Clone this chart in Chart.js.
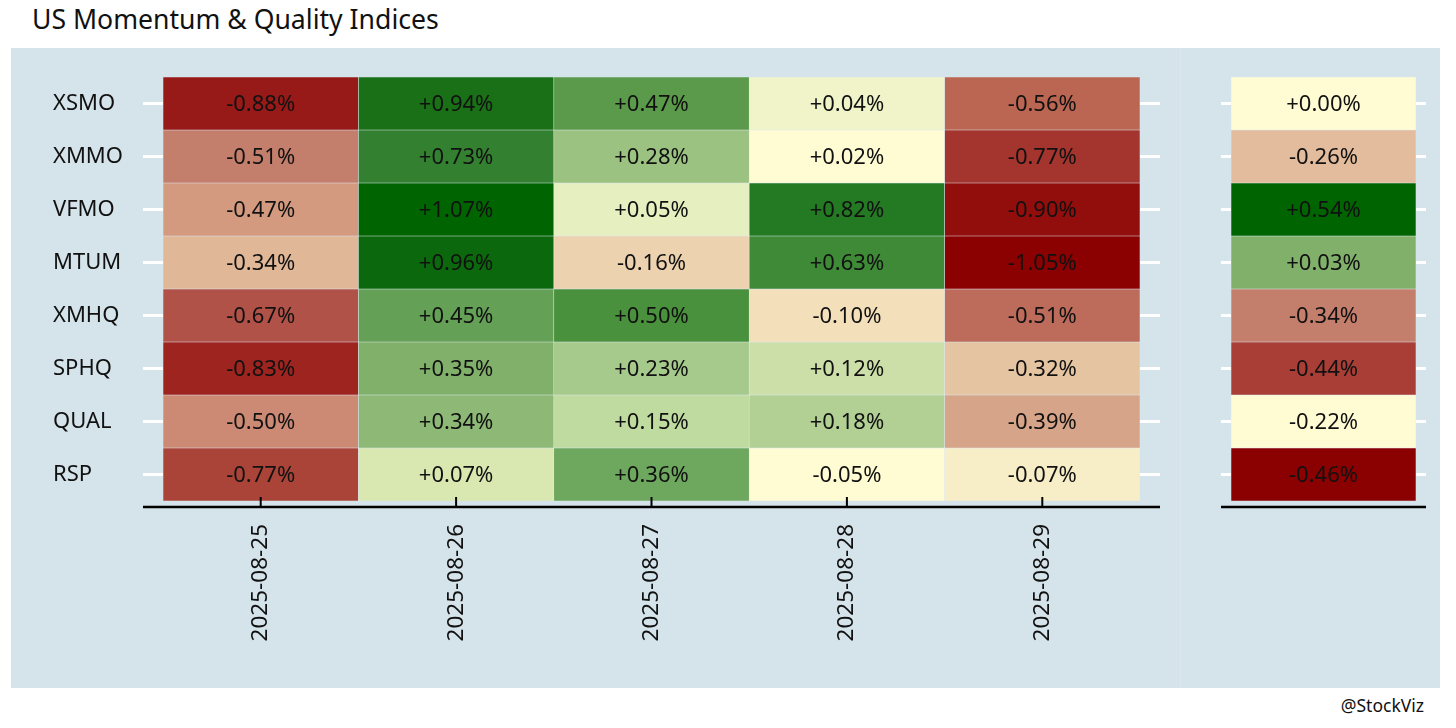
<!DOCTYPE html>
<html>
<head>
<meta charset="utf-8">
<script src="https://cdn.jsdelivr.net/npm/chart.js@4.4.1/dist/chart.umd.min.js"></script>
<style>
body{margin:0;background:#fff;width:1456px;height:728px;position:relative;overflow:hidden;font-family:"Noto Sans",sans-serif}
#title{position:absolute;left:32px;top:1px;font-size:26.6px;color:#111;white-space:nowrap}
#panel{position:absolute;left:11px;top:48px;width:1429px;height:640px;background:#d5e3ea}
#sep{position:absolute;left:1180px;top:48px;width:1px;height:640px;background:rgba(255,255,255,0.18)}
#main{position:absolute;left:0;top:48px}
#side{position:absolute;left:1180px;top:48px}
#credit{position:absolute;right:32px;top:693px;font-size:17.5px;color:#111}
</style>
</head>
<body>
<div id="title">US Momentum &amp; Quality Indices</div>
<div id="panel"></div>
<div id="sep"></div>
<canvas id="main" width="1180" height="640"></canvas>
<canvas id="side" width="260" height="640"></canvas>
<div id="credit">@StockViz</div>
<script>
// tickers (rows) and dates (columns)
const tickers = ['XSMO', 'XMMO', 'VFMO', 'MTUM', 'XMHQ', 'SPHQ', 'QUAL', 'RSP'];
const dates = ['2025-08-25', '2025-08-26', '2025-08-27', '2025-08-28', '2025-08-29'];

// daily returns in %, one array per date, rows in ticker order
const ret0825 = [-0.88, -0.51, -0.47, -0.34, -0.67, -0.83, -0.50, -0.77];
const ret0826 = [0.94, 0.73, 1.07, 0.96, 0.45, 0.35, 0.34, 0.07];
const ret0827 = [0.47, 0.28, 0.05, -0.16, 0.50, 0.23, 0.15, 0.36];
const ret0828 = [0.04, 0.02, 0.82, 0.63, -0.10, 0.12, 0.18, -0.05];
const ret0829 = [-0.56, -0.77, -0.90, -1.05, -0.51, -0.32, -0.39, -0.07];
// right hand panel
const sideRet = [0.00, -0.26, 0.54, 0.03, -0.34, -0.44, -0.22, -0.46];

const dailyRet = [ret0825, ret0826, ret0827, ret0828, ret0829];

// tile fills
const col0825 = ['#981a18', '#c47e6c', '#d39a80', '#e0b898', '#b05248', '#9e2420', '#cc8a74', '#aa4438'];
const col0826 = ['#1a7016', '#338030', '#006400', '#0c680c', '#64a055', '#80b06a', '#8db876', '#d9e7b0'];
const col0827 = ['#5a9a4a', '#9cc282', '#e6efc0', '#edd2b0', '#4a913e', '#a6c98c', '#c0dba0', '#6ea75e'];
const col0828 = ['#f0f4c8', '#fffcd4', '#247a22', '#3e8a36', '#f3e0bb', '#cddfa8', '#b2cf94', '#fffbd2'];
const col0829 = ['#bb6652', '#a3342e', '#920e0c', '#8b0000', '#bd6c5c', '#e5c4a2', '#d6a488', '#f7edc6'];
const sideCol = ['#fffcd4', '#e2bc9c', '#006400', '#80b06a', '#c47e6c', '#a83e36', '#fffcd4', '#8b0000'];
const dailyCol = [col0825, col0826, col0827, col0828, col0829];

const FONT = '"Noto Sans", sans-serif';

function fmt(v) {
  return (v >= 0 ? '+' : '') + v.toFixed(2) + '%';
}

// value text in each tile + black x axis line
const tileText = {
  id: 'tileText',
  afterDatasetsDraw(chart, args, opts) {
    const ctx = chart.ctx;
    ctx.save();
    ctx.font = '22px ' + FONT;
    ctx.fillStyle = '#111';
    ctx.textAlign = 'center';
    ctx.textBaseline = 'middle';
    chart.data.datasets.forEach((ds, r) => {
      chart.getDatasetMeta(r).data.forEach((bar, c) => {
        const p = bar.getCenterPoint();
        ctx.fillText(fmt(opts.values[c][r]), p.x, p.y + 1);
      });
    });
    ctx.restore();
  },
  afterDraw(chart, args, opts) {
    const ctx = chart.ctx;
    const a = chart.chartArea;
    const y = a.bottom + 6;
    ctx.save();
    ctx.strokeStyle = '#000';
    ctx.lineWidth = 2.5;
    ctx.beginPath();
    ctx.moveTo(a.left - opts.tickLen, y);
    ctx.lineTo(a.right + opts.tickLen, y);
    ctx.stroke();
    if (opts.xTicks) {
      const xs = chart.scales.x;
      ctx.lineWidth = 2;
      xs.ticks.forEach((t, i) => {
        const px = xs.getPixelForTick(i);
        ctx.beginPath();
        ctx.moveTo(px, y);
        ctx.lineTo(px, y - 10);
        ctx.stroke();
      });
    }
    ctx.restore();
  }
};

function rowTicks(scale) {
  scale.ticks = tickers.map((t, i) => ({ value: i + 0.5 }));
}

function makeChart(id, labels, values, colors, o) {
  const datasets = tickers.map((t, r) => ({
    label: t,
    data: labels.map(() => 1),
    backgroundColor: labels.map((l, c) => colors[c][r]),
    borderColor: 'rgba(255,255,255,0.18)',
    borderWidth: 0.6,
    borderSkipped: false,
    barPercentage: 1,
    categoryPercentage: 1
  }));
  return new Chart(document.getElementById(id), {
    type: 'bar',
    data: { labels: labels, datasets: datasets },
    plugins: [tileText],
    options: {
      responsive: false,
      animation: false,
      layout: { padding: { left: o.padL, right: o.padR, top: 29, bottom: 0 } },
      plugins: {
        legend: { display: false },
        tooltip: { enabled: false },
        tileText: { values: values, tickLen: o.tickLen, xTicks: o.xLabels }
      },
      scales: {
        x: {
          type: 'category',
          stacked: true,
          grid: { display: false, drawTicks: false },
          border: { display: false },
          ticks: {
            display: o.xLabels,
            autoSkip: false,
            minRotation: 90,
            maxRotation: 90,
            padding: 23,
            color: '#111',
            font: { family: FONT, size: 22.5 }
          },
          afterFit(s) { s.height = 187; }
        },
        y: {
          type: 'linear',
          position: 'left',
          stacked: true,
          reverse: true,
          min: 0,
          max: tickers.length,
          afterBuildTicks: rowTicks,
          grid: { drawOnChartArea: false, tickLength: o.tickLen, tickColor: '#ffffff', tickWidth: 3 },
          border: { display: false },
          ticks: {
            display: o.yLabels,
            crossAlign: 'far',
            color: '#111',
            font: { family: FONT, size: 22 },
            callback: (v, i) => tickers[i]
          },
          afterFit(s) { s.width = o.yWidth; }
        },
        y2: {
          type: 'linear',
          position: 'right',
          reverse: true,
          min: 0,
          max: tickers.length,
          afterBuildTicks: rowTicks,
          grid: { drawOnChartArea: false, tickLength: o.tickLen, tickColor: '#ffffff', tickWidth: 3 },
          border: { display: false },
          ticks: { display: false },
          afterFit(s) { s.width = o.tickLen; }
        }
      }
    }
  });
}

makeChart('main', dates, dailyRet, dailyCol,
  { padL: 53, padR: 20, yWidth: 110, tickLen: 20, xLabels: true, yLabels: true });
makeChart('side', ['Week'], [sideRet], [sideCol],
  { padL: 41, padR: 14, yWidth: 10, tickLen: 10, xLabels: false, yLabels: false });
</script>
</body>
</html>
